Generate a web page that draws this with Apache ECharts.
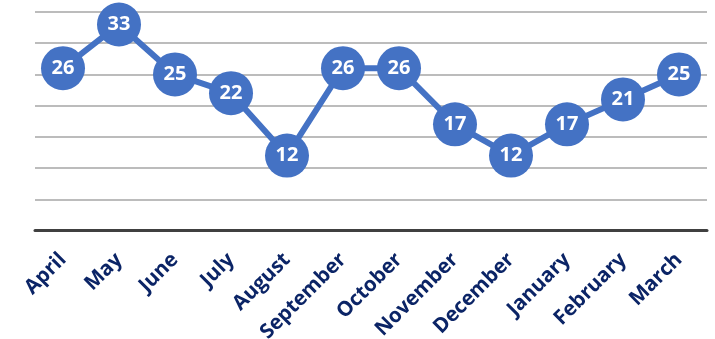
<!DOCTYPE html>
<html><head><meta charset="utf-8">
<script src="https://cdn.jsdelivr.net/npm/echarts@6/dist/echarts.min.js"></script>
<style>html,body{margin:0;padding:0;background:#fff}#c{width:715px;height:339px}</style>
</head><body><div id="c"></div>
<script>
const categories = ["April","May","June","July","August","September","October","November","December","January","February","March"];
const values = [26,33,25,22,12,26,26,17,12,17,21,25];
const yMin = 0, yMax = 35, yStep = 5;

const chart = echarts.init(document.getElementById('c'), null, {renderer:'canvas'});
chart.setOption({
  animation:false,
  grid:{left:35, right:8, top:12, bottom:108.5, containLabel:false, outerBoundsMode:'none'},
  xAxis:{
    type:'category', data:categories, boundaryGap:true,
    axisLine:{show:true, lineStyle:{color:'#404040', width:3}},
    axisTick:{show:false},
    axisLabel:{rotate:45, margin:26, color:'#0B2466', fontWeight:'bold', fontSize:20.5, fontFamily:'Open Sans', interval:0}
  },
  yAxis:{
    type:'value', min:yMin, max:yMax, interval:yStep,
    axisLabel:{show:false}, axisLine:{show:false}, axisTick:{show:false},
    splitLine:{lineStyle:{color:'#a6a6a6', width:1.5}}
  },
  series:[{
    type:'line', data:values,
    lineStyle:{color:'#4472C4', width:6},
    itemStyle:{color:'#4472C4'},
    symbol:'circle', symbolSize:44,
    label:{show:true, position:'inside', color:'#fff', fontWeight:'bold', fontSize:20, fontFamily:'Open Sans'}
  }]
});
</script></body></html>
